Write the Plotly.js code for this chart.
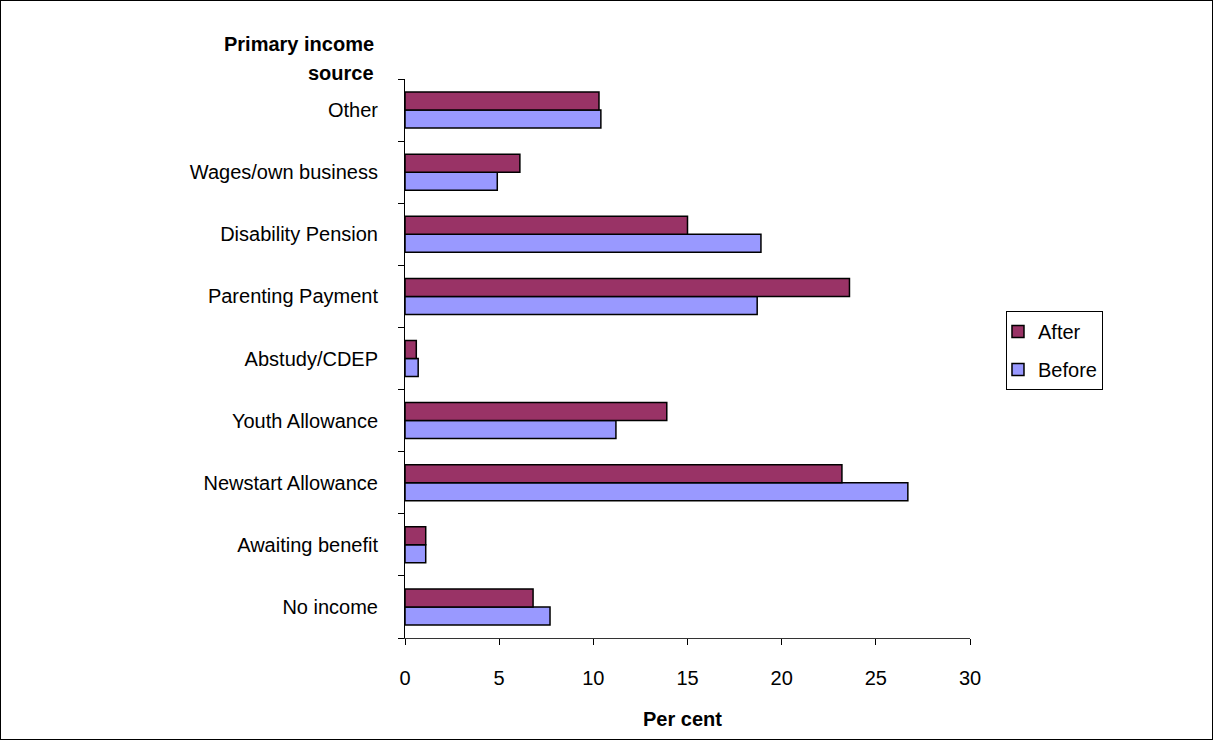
<!DOCTYPE html>
<html>
<head>
<meta charset="utf-8">
<script src="https://cdn.plot.ly/plotly-3.0.1.min.js"></script>
<style>
  html, body { margin: 0; padding: 0; background: #fff; }
  #frame { width: 1213px; height: 740px; box-sizing: border-box; border: 1px solid #000; }
  #chart { width: 1211px; height: 738px; }
</style>
</head>
<body>
<div id="frame"><div id="chart"></div></div>
<script>
// Categories, bottom to top
const categories = ["No income", "Awaiting benefit", "Newstart Allowance", "Youth Allowance",
  "Abstudy/CDEP", "Parenting Payment", "Disability Pension", "Wages/own business", "Other"];
const beforeValues = [7.7, 1.1, 26.7, 11.2, 0.7, 18.7, 18.9, 4.9, 10.4];
const afterValues  = [6.8, 1.1, 23.2, 13.9, 0.6, 23.6, 15.0, 6.1, 10.3];
const seriesNames = ["Before", "After"];
const xTicks = [0, 5, 10, 15, 20, 25, 30];

const FONT = "Arial, 'Liberation Sans', sans-serif";
const FS = 20;

const traces = [
  {
    type: "bar", orientation: "h", name: seriesNames[0], legendgroup: "b", legendrank: 2,
    y: categories, x: beforeValues,
    marker: { color: "#9999FF", line: { color: "#000000", width: 1.5 } }
  },
  {
    type: "bar", orientation: "h", name: seriesNames[1], legendgroup: "a", legendrank: 1,
    y: categories, x: afterValues,
    marker: { color: "#993366", line: { color: "#000000", width: 1.5 } }
  }
];

const layout = {
  width: 1211, height: 738,
  margin: { l: 404, r: 242, t: 78, b: 101 },
  paper_bgcolor: "#ffffff", plot_bgcolor: "#ffffff",
  font: { family: FONT, size: FS, color: "#000000" },
  barmode: "group",
  bargap: 0.42,
  bargroupgap: 0,
  showlegend: true,
  legend: {
    traceorder: "grouped",
    x: 1.0637, xanchor: "left", y: 0.585, yanchor: "top",
    bordercolor: "#000000", borderwidth: 1, bgcolor: "#ffffff",
    font: { family: FONT, size: FS, color: "#000000" },
    itemwidth: 30, tracegroupgap: 9, indentation: -9
  },
  xaxis: {
    range: [0, 30], tickvals: xTicks, ticktext: xTicks.map(String),
    showgrid: false, zeroline: false,
    showline: true, linecolor: "#333333", linewidth: 1,
    ticks: "outside", ticklen: 6, tickcolor: "#000000",
    ticklabelstandoff: 16,
    tickfont: { family: FONT, size: FS },
    fixedrange: true
  },
  yaxis: {
    type: "category", categoryorder: "array", categoryarray: categories,
    showgrid: false, zeroline: false,
    showline: true, linecolor: "#000000", linewidth: 1,
    ticks: "outside", ticklen: 6, tickcolor: "#000000", tickson: "boundaries",
    ticklabelstandoff: 22,
    tickfont: { family: FONT, size: FS },
    fixedrange: true
  },
  annotations: [
    {
      xref: "paper", yref: "paper", x: -0.0513, y: 1.0626,
      xanchor: "right", yanchor: "middle", align: "right", showarrow: false,
      text: "<b>Primary income</b>",
      font: { family: FONT, size: FS, color: "#000000" }
    },
    {
      xref: "paper", yref: "paper", x: -0.0513, y: 1.0107,
      xanchor: "right", yanchor: "middle", align: "right", showarrow: false,
      text: "<b>source</b>",
      font: { family: FONT, size: FS, color: "#000000" }
    },
    {
      xref: "paper", yref: "paper", x: 0.492, y: -0.145,
      xanchor: "center", yanchor: "middle", showarrow: false,
      text: "<b>Per cent</b>",
      font: { family: FONT, size: FS, color: "#000000" }
    }
  ]
};

Plotly.newPlot("chart", traces, layout, { displayModeBar: false, staticPlot: true });
</script>
</body>
</html>
